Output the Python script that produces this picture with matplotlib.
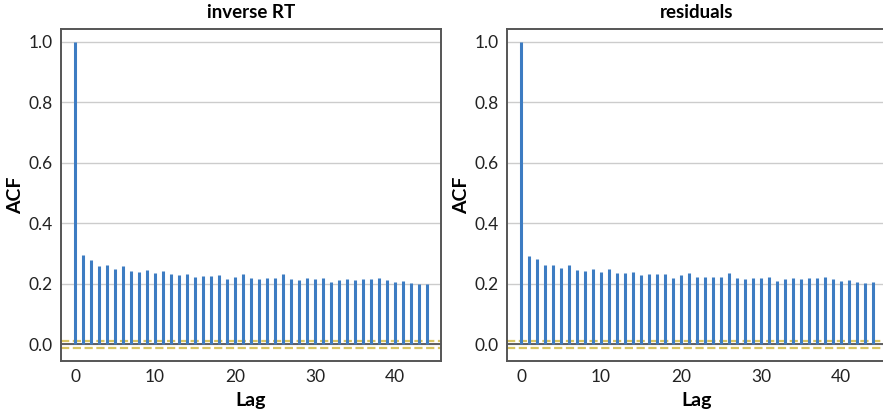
import numpy as np
import matplotlib.pyplot as plt

plt.rcParams['font.family'] = ['Lato', 'DejaVu Sans']

lags = np.arange(45)
acf_inv_rt = [1.0, 0.295, 0.279, 0.258, 0.261, 0.248, 0.258, 0.242, 0.238, 0.245,
              0.236, 0.243, 0.231, 0.230, 0.233, 0.223, 0.226, 0.226, 0.228, 0.215,
              0.223, 0.232, 0.219, 0.216, 0.220, 0.218, 0.232, 0.216, 0.212, 0.219,
              0.216, 0.219, 0.206, 0.213, 0.215, 0.213, 0.216, 0.216, 0.219, 0.213,
              0.206, 0.209, 0.202, 0.198, 0.200]
acf_resid = [1.0, 0.293, 0.282, 0.262, 0.263, 0.253, 0.262, 0.246, 0.242, 0.249,
             0.240, 0.248, 0.235, 0.235, 0.238, 0.230, 0.231, 0.231, 0.233, 0.220,
             0.228, 0.236, 0.223, 0.222, 0.223, 0.221, 0.235, 0.220, 0.216, 0.220,
             0.220, 0.222, 0.209, 0.215, 0.219, 0.215, 0.219, 0.220, 0.222, 0.216,
             0.210, 0.213, 0.207, 0.204, 0.205]
conf = 0.0115
titles = ['inverse RT', 'residuals']
series = [acf_inv_rt, acf_resid]

fig = plt.figure(figsize=(8.83, 4.12), dpi=100)
positions = [[0.0691, 0.1238, 0.4303, 0.8058], [0.5742, 0.1238, 0.4303, 0.8058]]

for pos, title, acf in zip(positions, titles, series):
    ax = fig.add_axes(pos)
    ax.yaxis.grid(True, color='#cccccc', lw=1)
    ax.set_axisbelow(True)
    ax.axhline(0, color='#555555', lw=1.3, zorder=2)
    ax.axhline(conf, color='#d8c460', lw=1.6, ls='--', zorder=2)
    ax.axhline(-conf, color='#d8c460', lw=1.6, ls='--', zorder=2)
    ax.vlines(lags, 0, acf, color='#3d7cc2', lw=2.2, zorder=3)
    ax.set_xlim(-1.75, 45.75)
    ax.set_ylim(-0.055, 1.042)
    ax.set_xticks([0, 10, 20, 30, 40])
    ax.set_yticks([0.0, 0.2, 0.4, 0.6, 0.8, 1.0])
    ax.set_yticklabels(['0.0', '0.2', '0.4', '0.6', '0.8', '1.0'])
    ax.tick_params(length=0, labelsize=12.5, pad=6, colors='#222222')
    for s in ax.spines.values():
        s.set_color('#555555')
        s.set_linewidth(1.4)
    ax.set_title(title, fontsize=13.5, fontweight='bold', pad=8)
    ax.set_xlabel('Lag', fontsize=14, fontweight='bold', labelpad=5)
    ax.set_ylabel('ACF', fontsize=14, fontweight='bold', labelpad=3)

fig.savefig('out.png', dpi=100)
